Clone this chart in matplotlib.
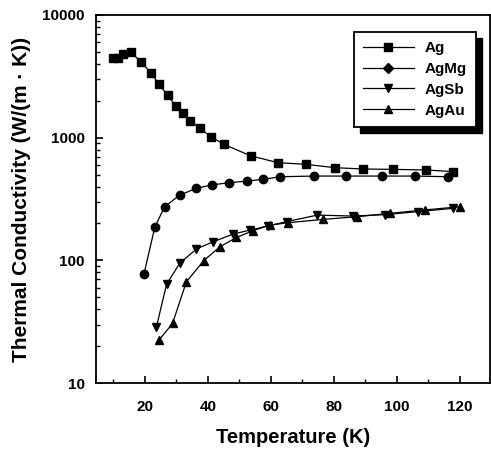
#!/usr/bin/env python
import matplotlib
matplotlib.use('Agg')
import matplotlib.pyplot as plt
from matplotlib.ticker import FixedLocator, NullFormatter, LogLocator
from matplotlib.lines import Line2D
from matplotlib.patches import Rectangle
from matplotlib.transforms import IdentityTransform

# data
t_ag = [9.8, 11.4, 13.1, 15.6, 18.7, 22.1, 24.5, 27.2, 29.8, 32.2, 34.5, 37.5, 41.0,
        45.1, 53.7, 62.3, 71.1, 80.3, 89.3, 98.8, 109.4, 117.9]
k_ag = [4460, 4500, 4780, 4960, 4170, 3350, 2720, 2230, 1810, 1580, 1380, 1190, 1020,
        883, 710, 626, 607, 570, 556, 552, 546, 529]

t_agmg = [19.7, 23.2, 26.3, 31.1, 36.4, 41.2, 46.8, 52.3, 57.6, 62.9, 73.7, 84.0, 95.2, 105.7, 116.3]
k_agmg = [77, 188, 274, 341, 387, 412, 430, 443, 458, 481, 487, 487, 487, 487, 481]

t_agsb = [23.7, 26.9, 31.1, 36.4, 41.7, 48.0, 53.5, 59.1, 65.0, 74.7, 86.1, 96.2, 106.8, 117.9]
k_agsb = [28.8, 64, 95, 124, 142, 164, 177, 191, 207, 234, 230, 236, 250, 266]

t_agau = [24.5, 28.8, 33.2, 38.7, 43.8, 49.1, 54.4, 59.7, 65.5, 76.6, 87.2, 97.8, 108.9, 120.0]
k_agau = [22.4, 30.7, 67, 99.6, 129, 154, 175, 194, 203, 216, 227, 242, 258, 274]

labels = ['Ag', 'AgMg', 'AgSb', 'AgAu']
xticks = [20, 40, 60, 80, 100, 120]

plt.rcParams['font.family'] = ['Liberation Sans', 'DejaVu Sans']
plt.rcParams['font.weight'] = 'bold'

fig = plt.figure(figsize=(4.91, 4.54), dpi=100)
ax = fig.add_axes([0.1955, 0.156, 0.802, 0.811])

kw = dict(color='black', lw=0.9, markersize=6)
ax.plot(t_ag, k_ag, marker='s', **kw)
ax.plot(t_agmg, k_agmg, marker='o', **kw)
ax.plot(t_agsb, k_agsb, marker='v', **kw)
ax.plot(t_agau, k_agau, marker='^', **kw)

ax.set_yscale('log')
ax.set_ylim(10, 10000)
ax.set_xlim(4.5, 129.5)
ax.set_xticks(xticks)
ax.xaxis.set_minor_locator(FixedLocator([10, 30, 50, 70, 90, 110]))
ax.yaxis.set_minor_locator(LogLocator(base=10, subs=range(2, 10)))
ax.yaxis.set_minor_formatter(NullFormatter())
ax.set_yticks([10, 100, 1000, 10000])
ax.set_yticklabels(['10', '100', '1000', '10000'])
ax.tick_params(which='both', direction='in', labelsize=11)
ax.tick_params(which='major', length=5, width=1.2)
ax.tick_params(which='minor', length=3, width=1)
ax.tick_params(axis='x', pad=12)
ax.tick_params(axis='y', pad=8)
for s in ax.spines.values():
    s.set_linewidth(1.3)

ax.set_xlabel('Temperature (K)', fontsize=14.5, fontweight='bold', labelpad=10)
ax.set_ylabel('Thermal Conductivity (W/(m · K))', fontsize=15, fontweight='bold', labelpad=8)

# legend shows a diamond for AgMg
handles = [Line2D([], [], marker=m, **kw) for m in ['s', 'D', 'v', '^']]
handles[1].set_markersize(5.5)
leg = ax.legend(handles, labels, loc='upper right', bbox_to_anchor=(0.964, 0.954),
                borderaxespad=0, frameon=True, fancybox=False, edgecolor='black',
                framealpha=1, fontsize=11, handlelength=3.3, borderpad=0.6,
                labelspacing=0.45, handletextpad=0.7)
leg.get_frame().set_linewidth(1.3)

# heavier drop shadow than the built-in one
fig.canvas.draw()
bb = leg.get_window_extent()
ax.add_patch(Rectangle((bb.x0 + 6, bb.y0 - 6), bb.width, bb.height, color='black',
                       transform=IdentityTransform(), zorder=4.9, clip_on=False))

fig.savefig('out.png', dpi=100)
